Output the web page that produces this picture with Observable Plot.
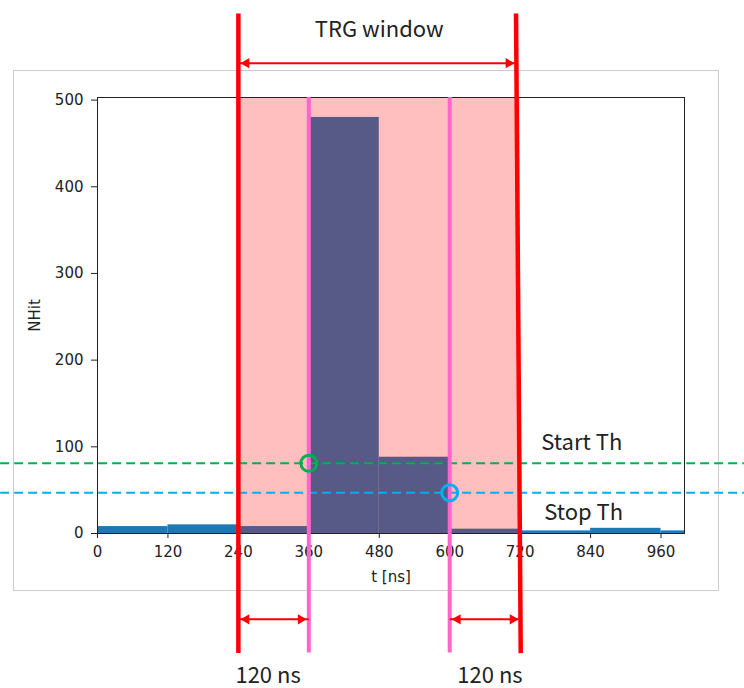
<!DOCTYPE html>
<html><head><meta charset="utf-8">
<script src="https://cdn.jsdelivr.net/npm/d3@7"></script>
<script src="https://cdn.jsdelivr.net/npm/@observablehq/plot@0.6"></script>
<style>
html,body{margin:0;padding:0;background:#fff;}
#wrap{position:relative;width:744px;height:688px;overflow:hidden;}
#figbox{position:absolute;left:13px;top:70px;width:704px;height:519px;border:1px solid #cccccc;}
#wrap svg{position:absolute;left:0;top:0;}
</style></head><body><div id="wrap"><div id="figbox"></div></div>
<script>
// histogram
const binStart = [0, 120, 240, 360, 480, 600, 720, 840, 960];
const binEnd   = [120, 240, 360, 480, 600, 720, 840, 960, 1000];
const counts   = [8, 10, 8, 480, 88, 5, 3, 6, 3];
const xTicks = [0, 120, 240, 360, 480, 600, 720, 840, 960];
const yTicks = [0, 100, 200, 300, 400, 500];
const xDomain = [0, 1000];
const yDomain = [0, 503];
const xLabel = "t [ns]";
const yLabel = "NHit";

// annotations (data units)
const trgWindow = [240, 720];
const trgTitle = "TRG window";
const thresholdNames = ["Start Th", "Stop Th"];
const thresholdValues = [81, 47];
const thresholdColors = ["#00b050", "#00b0f0"];
const crossingTimes = [360, 600];
const trgLines = [
  {x1: 240, x2: 240, y1: 600, y2: -138},
  {x1: 713, x2: 721, y1: 600, y2: -138}
];
const arrows = [
  {x1: 240, x2: 714, y: 542.6},
  {x1: 240, x2: 360, y: -99},
  {x1: 600, x2: 721, y: -99}
];
const sideTexts = ["Start Th", "Stop Th", "120 ns", "120 ns"];
const sideX = [756, 761, 235, 613];
const sideY = [105, 24, -164, -164];

const bins = binStart.map((s, i) => ({x1: s, x2: binEnd[i], count: counts[i]}));
const thresholds = thresholdValues.map((v, i) => ({name: thresholdNames[i], y: v, color: thresholdColors[i], t: crossingTimes[i]}));
const labels = sideTexts.map((t, i) => ({text: t, x: sideX[i], y: sideY[i]}));
const extentX = [-165, 1102];
const annFont = "'Noto Sans CJK JP', 'Noto Sans', sans-serif";

const chart = Plot.plot({
  width: 744, height: 688,
  marginLeft: 97, marginRight: 60, marginTop: 97, marginBottom: 155,
  x: {domain: xDomain, ticks: xTicks, tickSize: 5, tickPadding: 8, label: null},
  y: {domain: yDomain, ticks: yTicks, tickSize: 6, tickPadding: 8, label: null},
  style: {fontFamily: "DejaVu Sans", fontSize: "15px", color: "#222", background: "transparent", overflow: "visible"},
  marks: [
    Plot.rectY(bins, {x1: "x1", x2: "x2", y: "count", fill: "#1f77b4"}),
    Plot.rect([trgWindow], {x1: d => d[0], x2: d => d[1], y1: yDomain[0], y2: yDomain[1], fill: "#ff0000", fillOpacity: 0.25}),
    Plot.frame({stroke: "#222", strokeWidth: 1}),
    Plot.text([xLabel], {frameAnchor: "bottom", dy: 44, lineAnchor: "middle", text: d => d, fill: "#222", fontFamily: "DejaVu Sans", fontSize: 15}),
    Plot.text([yLabel], {frameAnchor: "left", dx: -62, rotate: -90, lineAnchor: "middle", textAnchor: "middle", text: d => d, fill: "#222", fontFamily: "DejaVu Sans", fontSize: 15}),
    Plot.ruleY(thresholds, {y: "y", x1: extentX[0], x2: extentX[1], stroke: d => d.color, strokeWidth: 2, strokeDasharray: "9,5"}),
    Plot.ruleX(crossingTimes, {x: d => d, y1: yDomain[1], y2: -138, stroke: "#ff66cc", strokeWidth: 4}),
    Plot.link(trgLines, {x1: "x1", y1: "y1", x2: "x2", y2: "y2", stroke: "#ff0000", strokeWidth: 4.5}),
    Plot.dot(thresholds, {x: "t", y: "y", r: 8, stroke: d => d.color, strokeWidth: 3, fill: "none"}),
    Plot.link(arrows, {x1: "x1", x2: "x2", y1: "y", y2: "y", stroke: "#ff0000", strokeWidth: 2}),
    Plot.dot(arrows, {x: "x1", y: "y", symbol: "triangle", r: 3.8, rotate: -90, fill: "#ff0000", stroke: "none", dx: 8}),
    Plot.dot(arrows, {x: "x2", y: "y", symbol: "triangle", r: 3.8, rotate: 90, fill: "#ff0000", stroke: "none", dx: -8}),
    Plot.text([trgTitle], {x: (trgWindow[0] + trgWindow[1]) / 2, y: 581.4, text: d => d, textAnchor: "middle", lineAnchor: "middle",
      fontFamily: annFont, fontSize: 22, fill: "#222"}),
    Plot.text(labels, {x: "x", y: "y", text: "text", textAnchor: "start", lineAnchor: "middle",
      fontFamily: annFont, fontSize: 22, fill: "#222"})
  ]
});
document.getElementById("wrap").appendChild(chart);
</script>
</body></html>
